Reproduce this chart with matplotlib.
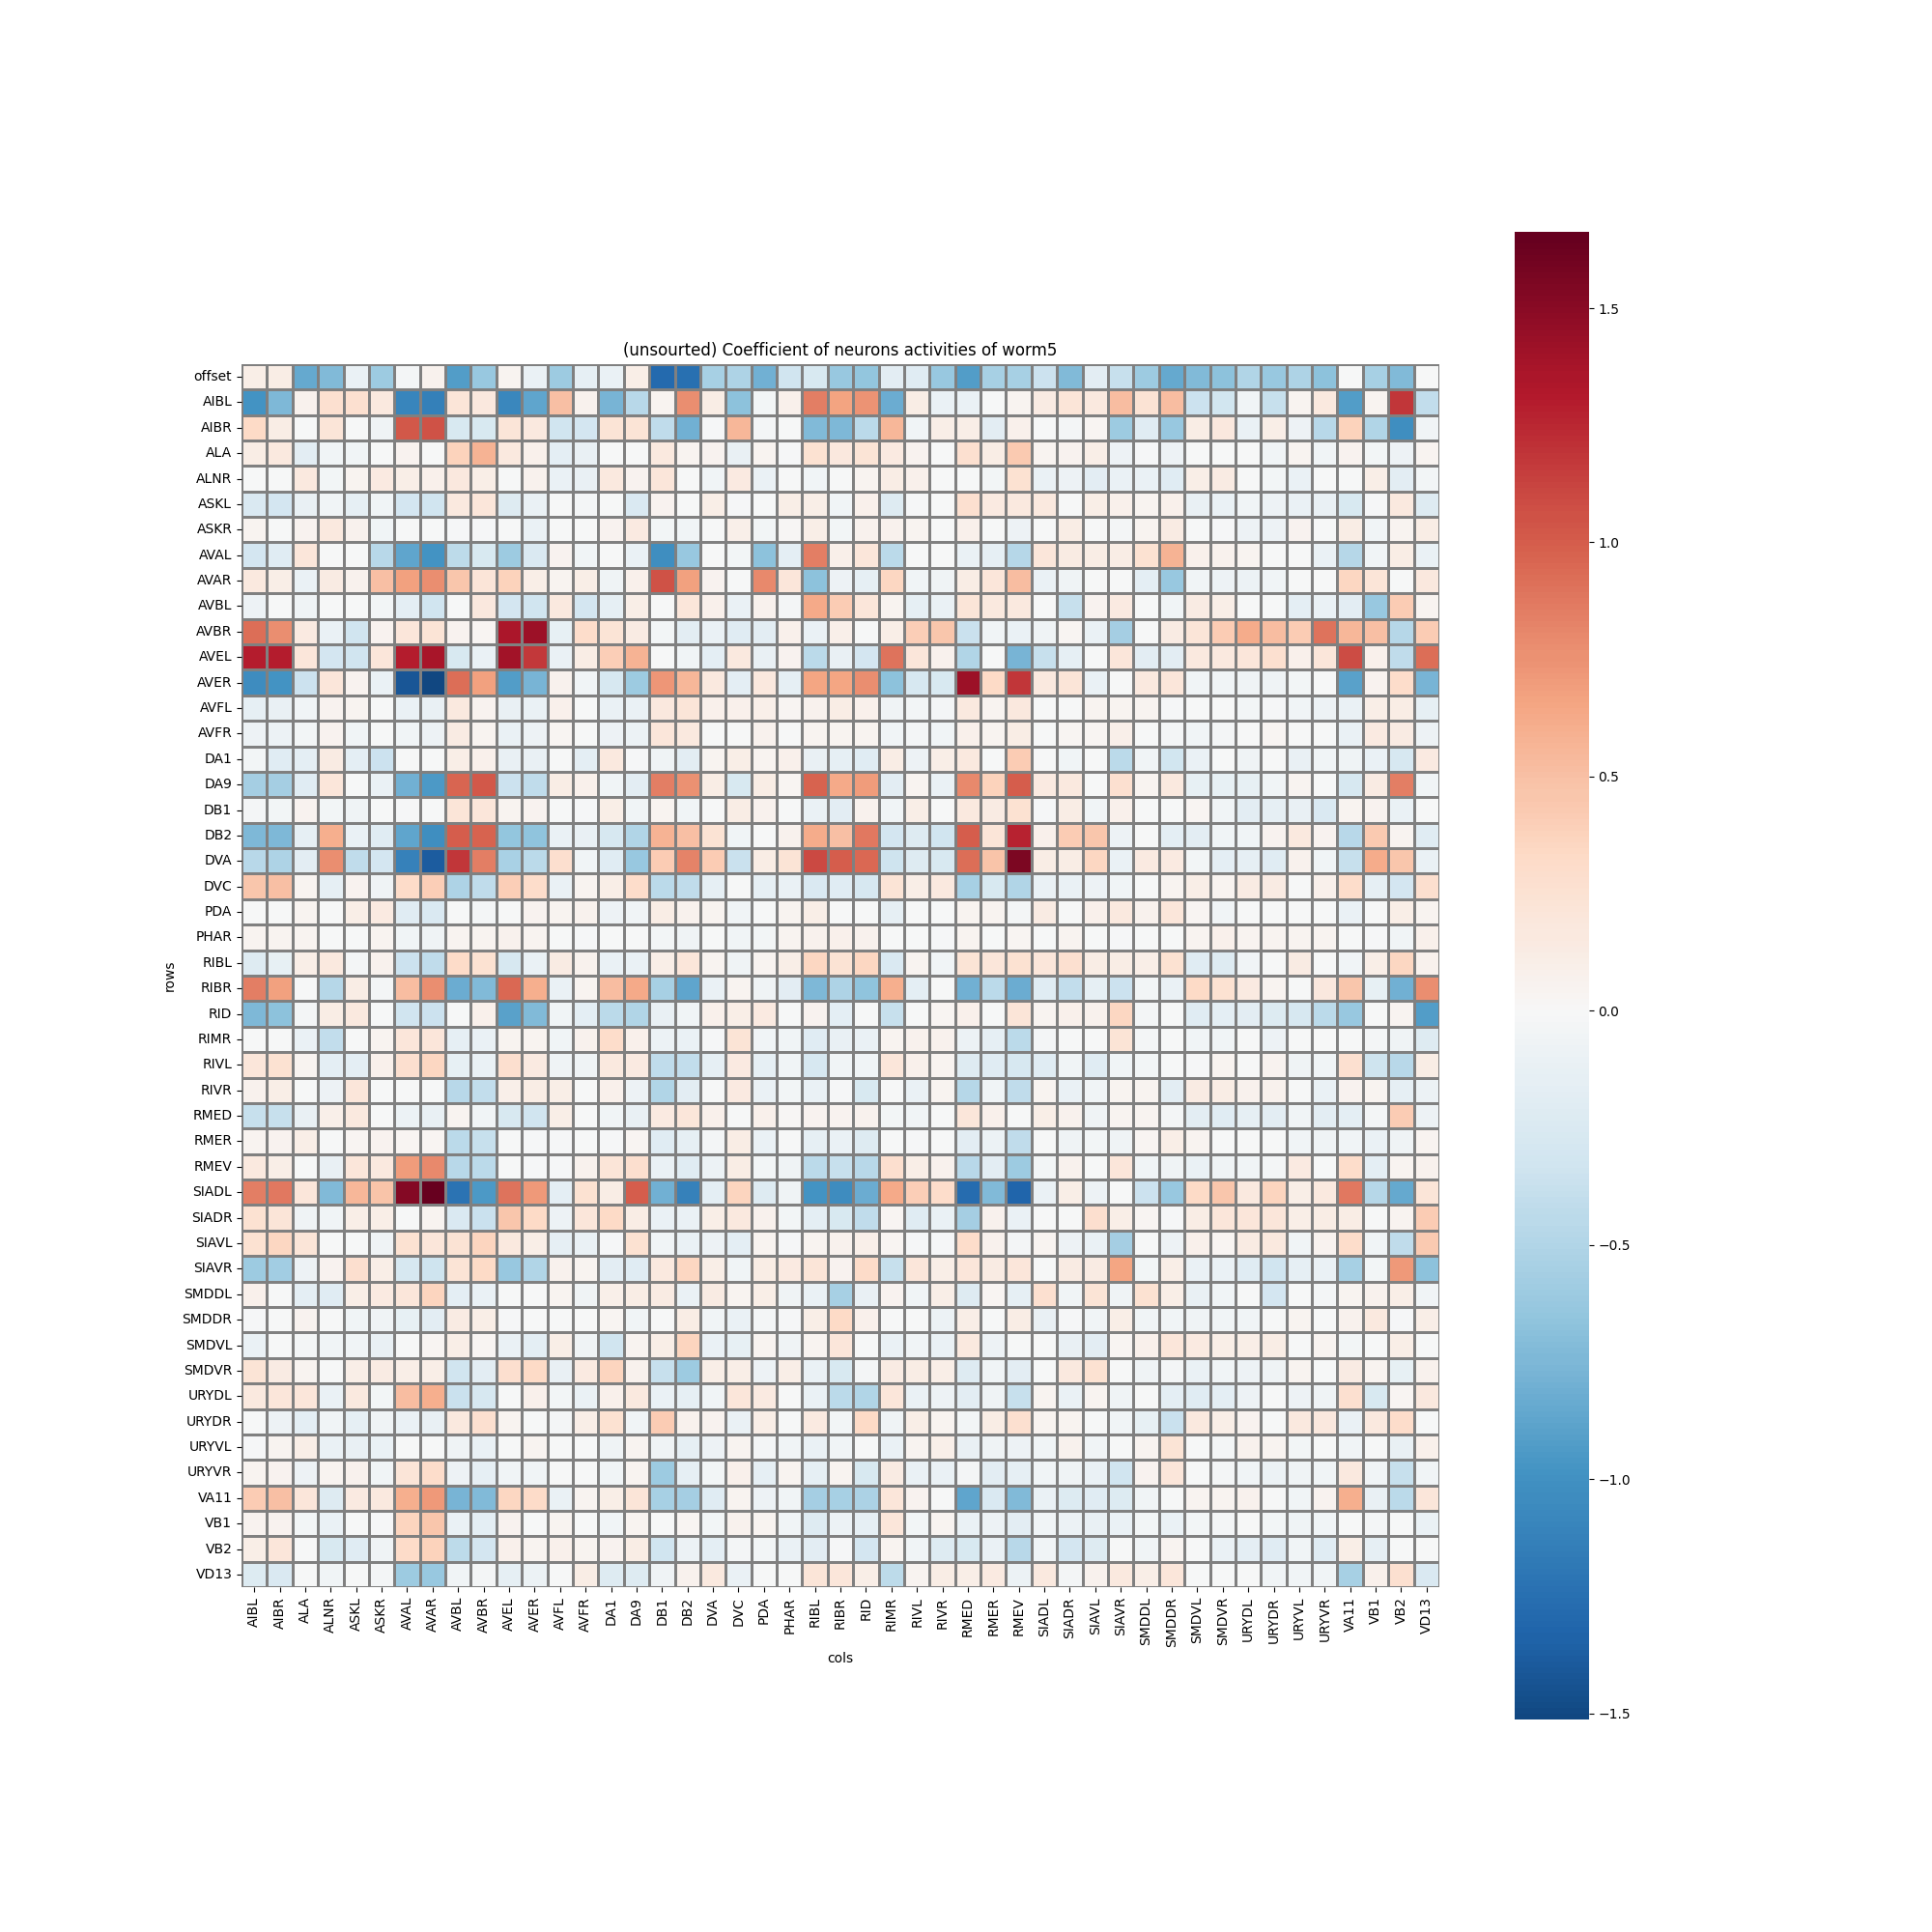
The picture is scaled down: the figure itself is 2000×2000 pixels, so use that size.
import numpy as np
import pandas as pd
import seaborn as sns
import matplotlib
matplotlib.use("Agg")
import matplotlib.pyplot as plt

col_names = ["AIBL", "AIBR", "ALA", "ALNR", "ASKL", "ASKR", "AVAL", "AVAR", "AVBL", "AVBR", "AVEL", "AVER",
             "AVFL", "AVFR", "DA1", "DA9", "DB1", "DB2", "DVA", "DVC", "PDA", "PHAR", "RIBL", "RIBR", "RID",
             "RIMR", "RIVL", "RIVR", "RMED", "RMER", "RMEV", "SIADL", "SIADR", "SIAVL", "SIAVR", "SMDDL",
             "SMDDR", "SMDVL", "SMDVR", "URYDL", "URYDR", "URYVL", "URYVR", "VA11", "VB1", "VB2", "VD13"]
row_names = ["offset"] + col_names

# coefficients, one list per row
offset = [0.1,0.12,-0.85,-0.72,-0.1,-0.6,-0.03,0.07,-0.92,-0.63,0.05,-0.1,-0.6,-0.14,-0.1,0.1,
          -1.28,-1.25,-0.55,-0.52,-0.8,-0.33,-0.27,-0.62,-0.65,-0.18,-0.2,-0.62,-0.92,-0.55,-0.55,-0.35,
          -0.72,-0.18,-0.38,-0.6,-0.85,-0.72,-0.68,-0.5,-0.62,-0.52,-0.68,0,-0.55,-0.72,0]
AIBL = [-0.98,-0.75,0.07,0.27,0.27,0.15,-1.1,-1.13,0.22,0.18,-1.08,-0.88,0.5,0.07,-0.78,-0.47,
        0.05,0.78,0.12,-0.67,-0.04,0.08,0.85,0.67,0.74,-0.82,0.12,-0.1,-0.1,0,0.05,0.13,
        0.22,0.17,0.52,0.24,0.52,-0.35,-0.32,-0.06,-0.38,0.04,0.17,-0.92,0.04,1.18,-0.4]
AIBR = [0.33,0.12,0,0.22,0,-0.07,1.03,1.05,-0.27,-0.27,0.22,0.17,-0.33,-0.3,0.23,0.23,
        -0.42,-0.8,-0.02,0.55,-0.03,0,-0.72,-0.75,-0.45,0.55,-0.06,0.1,0.1,-0.18,0.08,0,
        -0.03,0.03,-0.6,-0.2,-0.62,0.12,0.18,-0.1,0.1,-0.08,-0.47,0.38,-0.5,-1.02,-0.06]
ALA = [0.12,0.17,-0.18,-0.05,-0.05,0,0.06,0,0.38,0.58,0.17,0.08,-0.17,-0.12,0,0,
       0.15,0.05,0.06,-0.12,0.05,-0.02,0.25,0.18,0.23,0.14,0.06,0,0.27,0.12,0.43,0.05,
       0.06,0.1,-0.08,-0.02,-0.08,0,0,0,-0.06,0.04,-0.05,0.06,-0.04,-0.08,0.04]
ALNR = [0,0,0.15,-0.04,0.05,0.14,0.1,0.08,0.18,0.1,0,0.07,-0.1,-0.12,0.17,0.06,
        0.2,0,-0.05,0.14,-0.1,0,-0.06,0,0.05,0.12,0.08,0,0,-0.04,0.25,-0.1,
        -0.08,-0.18,-0.1,-0.1,-0.2,0.1,0.13,0,-0.04,-0.1,0,0,0.1,-0.18,-0.04]
ASKL = [-0.25,-0.3,-0.12,-0.05,-0.14,-0.06,-0.3,-0.33,0.16,0.2,-0.22,-0.1,0,-0.03,0,-0.25,
        0.06,0,0.1,-0.02,0,0.1,0.1,-0.05,0.08,-0.22,-0.02,0,0.27,0.14,0.17,0.15,
        0,0.1,0.08,0.05,0.08,-0.12,-0.1,-0.05,-0.08,-0.1,-0.12,-0.27,-0.02,0.16,-0.22]
ASKR = [0.05,0,0.06,0.17,0.07,-0.06,0,0,-0.02,-0.02,0,-0.1,0,0,0.06,0.14,
        -0.04,-0.05,0,0.09,-0.04,0.02,0.1,-0.04,0.07,0.07,0.05,0,0.08,0,-0.08,0,
        0.12,0,-0.03,0.05,0.13,0,-0.02,-0.08,-0.08,0.06,0,0.12,-0.06,0.05,0.12]
AVAL = [-0.3,-0.2,0.2,0,0,-0.47,-0.88,-0.98,-0.43,-0.27,-0.6,-0.25,0.06,-0.06,0,-0.1,
        -1.02,-0.62,0,-0.04,-0.68,-0.17,0.85,0.09,0.2,-0.45,0,0,-0.1,-0.14,-0.48,0.2,
        0.13,0.12,0.12,0.25,0.58,0.08,0.07,0.05,0,0,-0.1,-0.48,-0.06,0.12,-0.1]
AVAR = [0.16,0.1,-0.1,0.13,0.07,0.5,0.68,0.78,0.47,0.22,0.38,0.1,0.05,0.1,-0.07,0.08,
        1.05,0.68,0.06,0,0.8,0.2,-0.68,-0.08,-0.16,0.36,-0.06,-0.07,0.12,0.2,0.52,-0.1,
        -0.07,0,0,-0.17,-0.62,-0.05,-0.08,-0.09,-0.05,0,0,0.36,0.22,0,0.18]
AVBL = [-0.08,0,-0.07,0,0,-0.04,-0.17,-0.33,0,0.18,-0.3,-0.33,0.16,-0.3,-0.16,0.1,
        0,0.2,0.08,-0.1,0.07,-0.03,0.63,0.42,0.2,0.05,-0.16,-0.1,0.22,0.15,0.17,0,
        -0.38,0.06,0.14,0,-0.06,0.13,0.1,0,0,-0.17,-0.1,-0.18,-0.62,0.42,0.04]
AVBR = [0.92,0.78,0.14,-0.1,-0.33,0.06,0.2,0.23,0.06,0.03,1.36,1.42,-0.13,0.3,0.23,0.13,
        -0.04,-0.18,-0.1,-0.2,-0.18,0.08,-0.1,0.09,0,0.1,0.4,0.46,-0.37,-0.05,-0.1,-0.07,
        0.03,-0.1,-0.56,0,0.13,0.22,0.42,0.62,0.52,0.42,0.9,0.55,0.5,-0.48,0.42]
AVEL = [1.3,1.3,0.2,-0.3,-0.33,0.2,1.3,1.37,-0.27,-0.1,1.4,1.17,-0.1,0.12,0.4,0.58,
        0,-0.05,-0.17,0.16,-0.12,0.06,-0.45,-0.12,-0.3,0.9,0.2,0.07,-0.5,0,-0.78,-0.38,
        -0.15,0,0.2,-0.18,-0.18,0.17,0.16,0.2,0.27,0.08,0.2,1.08,0.08,-0.42,0.93]
AVER = [-1.05,-0.98,-0.35,0.2,0.06,-0.1,-1.42,-1.513,0.92,0.68,-0.92,-0.78,0.07,-0.06,-0.28,-0.6,
        0.73,0.55,0.15,-0.17,0.18,-0.16,0.65,0.65,0.78,-0.68,-0.28,-0.27,1.42,0.33,1.18,0.15,
        0.22,-0.1,0,0.16,0.2,-0.06,-0.06,-0.07,-0.07,-0.04,0,-0.9,0.06,0.3,-0.78]
AVFL = [-0.14,-0.12,-0.06,0.06,0.05,0,-0.11,-0.12,0.16,0.06,-0.12,-0.1,0.08,0,-0.1,-0.11,
        0.18,0.22,0.08,0.08,0.09,0.03,0.07,0.12,0.08,-0.07,-0.04,-0.03,0.16,0.05,0.18,0,
        0,0.05,0.05,0.05,-0.02,0,0,-0.04,-0.02,-0.06,-0.08,-0.11,0.1,0.12,-0.16]
AVFR = [-0.08,-0.09,-0.04,0.06,-0.05,0,-0.06,-0.08,0.13,0.05,-0.1,-0.08,0.03,0,-0.08,-0.09,
        0.2,0.17,0,0,0.07,0,0.05,0.05,0.05,-0.06,-0.03,-0.05,0.08,0.04,0.12,0,
        0.03,0.03,0.09,0,-0.03,-0.05,-0.03,0,0.03,0,0,-0.1,0.14,0.13,-0.08]
DA1 = [-0.04,-0.2,-0.17,0.13,-0.17,-0.35,0,0,0.1,0.08,-0.12,-0.12,0,-0.17,0.17,-0.02,
       -0.07,-0.18,0.05,0.1,0.05,0.08,-0.12,-0.15,-0.2,0.12,-0.08,0.1,0.15,0,0.42,0,
       -0.06,0,-0.44,-0.05,-0.32,-0.1,0,-0.07,0,-0.12,-0.06,-0.07,-0.1,-0.28,0.14]
DA9 = [-0.56,-0.56,-0.2,0.2,0,-0.1,-0.8,-0.95,0.96,1.02,-0.35,-0.42,0.12,0.08,-0.05,-0.18,
       0.85,0.75,0.12,-0.27,0.12,0.03,0.97,0.63,0.7,-0.18,0.05,-0.1,0.8,0.38,1.0,0.14,
       0.16,0,0.27,0.05,0.17,-0.13,-0.13,-0.13,-0.06,0.05,0,-0.28,0.13,0.85,-0.06]
DB1 = [-0.03,-0.04,0.06,-0.04,-0.07,0,-0.02,0,0.22,0.2,0.04,0.06,0,-0.02,0.1,-0.06,
       0.05,-0.05,0,0.12,0.07,0,-0.1,-0.18,0.07,-0.06,0.1,0,0.17,0.13,0.25,-0.02,
       0.12,-0.05,0.08,0,0,0.03,-0.05,-0.18,-0.14,-0.12,-0.25,0.04,0.06,-0.1,0]
DB2 = [-0.74,-0.75,-0.15,0.6,-0.1,-0.2,-0.87,-1.02,1.0,0.97,-0.65,-0.66,-0.1,-0.12,-0.28,-0.5,
       0.58,0.5,0.24,-0.05,0,0.07,0.62,0.5,0.88,-0.3,-0.22,-0.33,1.0,0.22,1.27,0.08,
       0.42,0.45,-0.08,0,-0.17,-0.18,-0.06,-0.05,0.06,0.15,0.06,-0.47,0.43,0.04,-0.2]
DVA = [-0.46,-0.52,-0.18,0.78,-0.42,-0.3,-1.12,-1.38,1.18,0.85,-0.54,-0.45,0.28,-0.05,-0.2,-0.62,
       0.42,0.82,0.42,-0.37,0.12,0.23,1.1,1.0,0.95,-0.34,-0.22,-0.27,0.93,0.48,1.56,0.12,
       0.12,0.35,-0.1,0.14,0.14,-0.04,-0.17,-0.16,-0.2,0.07,-0.05,-0.38,0.62,0.45,-0.1]
DVC = [0.47,0.5,0.05,-0.15,0.06,-0.07,0.32,0.4,-0.52,-0.42,0.4,0.3,-0.1,0.05,0.1,0.3,
       -0.45,-0.42,-0.14,0,-0.14,-0.1,-0.25,-0.2,-0.28,0.23,0.1,0.17,-0.55,-0.27,-0.5,-0.1,
       -0.1,-0.08,-0.06,0,0.04,0.1,0.05,0.13,0.13,0,0.08,0.3,-0.15,-0.3,0.28]
PDA = [0,0,0.05,0,0.1,0.14,-0.2,-0.25,0,-0.03,0,0.06,0.05,0.07,-0.08,-0.06,
       0.12,0.07,0.04,-0.05,0,0.04,0.1,0,0,-0.16,0,0,0.05,0.05,-0.03,0.13,
       0,0.08,0.15,0.07,0.2,0.03,-0.05,0,0,0,0,-0.1,0,0.1,0.04]
PHAR = [0.05,0.04,0.05,0,0,0.05,-0.05,-0.07,0.04,0.05,0.07,0.05,0,-0.02,0,0,
        -0.04,-0.07,0,-0.05,-0.04,0.04,0.07,0.08,0.07,0,0,-0.02,0.05,0,0.03,0,
        0.05,0,-0.02,0,0,0.05,0.08,0.05,0.05,0.05,0.05,0,-0.02,-0.05,0.08]
RIBL = [-0.22,-0.13,0.11,0.15,-0.03,0.07,-0.35,-0.42,0.32,0.25,-0.28,-0.1,0.13,0.07,-0.1,-0.1,
        0.1,0.2,0.05,-0.07,0.05,0.1,0.35,0.24,0.35,-0.25,0.04,-0.06,0.23,0.2,0.25,0.2,
        0.27,0.12,0.12,0.1,0.25,-0.2,-0.22,-0.06,0,0.13,0,-0.05,0.1,0.35,0.07]
RIBR = [0.85,0.68,0,-0.48,0.12,-0.03,0.52,0.78,-0.83,-0.72,0.95,0.6,-0.1,0.05,0.52,0.63,
        -0.55,-0.88,-0.11,0.05,-0.07,-0.18,-0.75,-0.52,-0.66,0.6,-0.17,0,-0.8,-0.45,-0.83,-0.2,
        -0.4,-0.14,-0.35,-0.04,-0.1,0.33,0.25,0.14,0.05,0,0.18,0.47,-0.13,-0.8,0.78]
RID = [-0.75,-0.68,-0.03,0.12,0.15,0,-0.33,-0.35,0,0.08,-0.9,-0.73,-0.05,-0.17,-0.45,-0.5,
       -0.12,-0.05,0.08,0.1,0.14,0,0.06,-0.17,0,-0.38,0,0.03,0.08,0,0.22,0.04,
       0.08,0.07,0.35,-0.03,0,-0.2,-0.17,-0.18,-0.23,-0.28,-0.45,-0.62,0,0.05,-0.92]
RIMR = [0,0,-0.1,-0.4,0,0.05,0.2,0.2,-0.16,-0.1,0.04,0.05,-0.06,0.07,0.3,0.08,
        -0.09,-0.1,-0.02,0.23,-0.06,-0.06,-0.2,-0.12,-0.1,0.04,0.07,0.07,-0.09,-0.15,-0.45,-0.03,
        0,0,0.23,-0.03,0,-0.06,-0.05,0,-0.08,0,0,0,-0.03,-0.07,-0.22]
RIVL = [0.2,0.25,0.04,-0.17,-0.17,0.08,0.28,0.35,-0.13,-0.1,0.28,0.14,-0.07,-0.07,0.15,0.14,
        -0.42,-0.4,-0.16,0.14,-0.16,-0.06,-0.28,-0.05,-0.06,0.2,0.08,0.05,-0.22,-0.2,-0.28,-0.2,
        -0.05,-0.2,-0.05,-0.04,0,-0.02,0.04,0,0.06,-0.07,-0.05,0.27,-0.34,-0.47,0.12]
RIVR = [0.07,0.1,0,-0.08,0.2,0,0,0,-0.47,-0.4,0.09,0.12,0.1,0,0.08,-0.08,
        -0.5,-0.18,0,0.14,-0.1,-0.04,-0.1,-0.02,-0.27,0,-0.1,0.04,-0.48,-0.05,-0.42,0.04,
        -0.1,-0.05,0.05,0.04,-0.18,0.13,0.12,0.07,0.07,0,-0.1,0.06,0.04,-0.15,-0.09]
RMED = [-0.38,-0.38,-0.12,0.09,0.15,0,-0.09,-0.12,0.05,-0.05,-0.27,-0.33,0.1,0,-0.05,-0.12,
        0.14,0.2,0.08,0,0.08,0.02,0.06,0.06,0.07,-0.04,-0.05,0,0.2,0.08,0,0.1,
        0.07,-0.07,0.04,0.05,-0.03,-0.18,-0.2,-0.14,-0.18,-0.05,-0.18,-0.17,-0.03,0.42,-0.08]
RMER = [0.04,0.06,0.1,0,0.03,0.06,0.03,0.03,-0.45,-0.38,0,-0.02,-0.02,0,-0.02,0.03,
        -0.2,-0.14,-0.03,0.12,-0.1,0,-0.15,-0.1,-0.22,0,-0.02,0,-0.18,-0.09,-0.42,0,
        -0.07,-0.04,-0.07,0.03,0.1,0.05,0,0,0,-0.05,-0.07,-0.06,-0.1,-0.07,0.04]
RMEV = [0.15,0.1,0,-0.12,0.2,0.15,0.7,0.8,-0.47,-0.45,0,-0.02,-0.02,0.07,0.22,0.28,
        -0.1,-0.2,-0.09,0.12,-0.04,-0.07,-0.45,-0.38,-0.47,0.28,0.1,0.07,-0.47,-0.18,-0.6,-0.04,
        0.07,0,0.2,-0.05,-0.07,-0.1,-0.07,-0.05,-0.03,0.14,0,0.3,-0.17,0.05,0.07]
SIADL = [0.85,0.88,0.2,-0.72,0.55,0.48,1.52,1.663,-1.22,-0.95,0.9,0.72,-0.17,0.25,0.12,1.0,
         -0.8,-1.12,-0.17,0.37,-0.22,-0.07,-0.98,-1.04,-0.82,0.63,0.4,0.3,-1.27,-0.72,-1.32,-0.1,
         0.1,-0.08,0,-0.35,-0.62,0.33,0.45,0.17,0.37,0.11,0.16,0.88,-0.48,-0.85,0.22]
SIADR = [0.25,0.22,-0.07,-0.06,0.1,0.1,0,0.05,-0.25,-0.36,0.45,0.33,-0.08,0.2,0.33,0.12,
         -0.1,-0.1,0.11,0.16,0.07,-0.04,-0.17,-0.27,-0.42,0.03,-0.2,-0.1,-0.57,0.07,-0.1,0,
         0,0.28,0.1,0.03,-0.02,0.12,0.2,0.2,0.2,0.1,0.12,0.12,0,0.05,0.42]
SIAVL = [0.25,0.35,0.22,0,0,-0.07,0.25,0.2,0.24,0.37,0.15,0.1,-0.15,-0.1,-0.02,0.25,
         -0.05,-0.1,-0.08,-0.17,0.05,-0.02,0.04,0.07,0.09,0.03,-0.02,-0.02,0.3,0.07,-0.03,0.04,
         -0.08,-0.1,-0.56,0,-0.08,0.08,0.03,0.13,0.15,-0.05,0.06,0.3,-0.05,-0.42,0.43]
SIAVR = [-0.6,-0.58,-0.08,0.06,0.28,0.1,-0.28,-0.34,0.23,0.33,-0.62,-0.5,0.07,0.04,-0.18,-0.2,
         0.15,0.35,0.1,-0.05,0.12,0.14,0.22,0.06,0.32,-0.38,0.2,0.1,0.2,0.13,0.2,0,
         0.13,0.13,0.65,-0.04,0.1,-0.1,-0.1,-0.2,-0.33,-0.15,-0.1,-0.55,-0.04,0.72,-0.68]
SMDDL = [0.08,0,-0.17,-0.2,0.11,0.14,0.2,0.37,-0.17,-0.11,0,0,0.05,-0.07,0.09,0.12,
         0.13,-0.1,0.13,0.05,0.1,-0.07,-0.1,-0.55,-0.12,0.06,-0.06,0.1,-0.22,0.03,-0.16,0.27,
         -0.05,0.23,-0.07,0.25,0.11,-0.12,-0.06,0,-0.3,0,-0.03,0.05,0.07,0.1,-0.05]
SMDDR = [-0.02,0,0.06,0,-0.05,-0.07,-0.13,-0.18,0.13,0.1,-0.02,0,0,0,0.03,-0.05,
         0,0.12,-0.06,-0.1,-0.03,-0.02,0.1,0.33,0.08,0,0,-0.09,0.11,0,0.12,-0.12,
         -0.02,-0.05,0.1,-0.06,-0.06,-0.07,-0.05,-0.05,0,0.04,0,0.07,0.17,-0.02,0.1]
SMDVL = [-0.1,0,-0.03,-0.05,-0.06,-0.12,0,0.03,0.11,0.03,-0.11,-0.17,0.1,-0.07,-0.33,0.04,
         0.1,0.37,-0.1,-0.13,0.04,-0.07,0.04,0.2,0,-0.1,-0.06,-0.1,0.15,-0.08,0,0,
         -0.12,-0.18,0.03,0.08,0.2,0.14,0.1,0.11,0.12,0,0.05,-0.04,0,0.1,0]
SMDVR = [0.23,0.13,0.05,0,0.1,0.13,0.1,0.1,-0.33,-0.18,0.28,0.33,-0.12,0.14,0.37,0.07,
         -0.38,-0.6,0.11,0.1,-0.08,0.1,-0.1,-0.27,-0.03,0.13,0.12,0.11,-0.22,-0.06,-0.18,0,
         0.16,0.25,0,-0.07,-0.03,-0.1,-0.06,-0.08,-0.07,0.05,0,0.13,0.05,-0.13,0.07]
URYDL = [0.15,0.2,0.2,-0.1,0.15,-0.04,0.52,0.6,-0.36,-0.28,0,0.08,-0.04,-0.1,0.08,0.17,
         -0.1,-0.16,-0.06,0.2,0.14,0,-0.1,-0.45,-0.5,0.2,-0.1,-0.08,-0.18,-0.07,-0.38,0.04,
         -0.1,0.05,-0.07,0,-0.17,-0.2,-0.17,-0.08,0,-0.08,-0.07,0.27,-0.27,0.03,0.18]
URYDR = [0,-0.08,-0.17,-0.06,-0.16,-0.07,-0.1,-0.12,0.15,0.27,0.05,0,-0.03,0.1,0.25,-0.05,
         0.42,0.07,0.06,-0.1,0.1,0,0.14,-0.04,0.33,-0.07,0.1,0.04,-0.04,0.12,0.27,0.04,
         0.05,0,-0.05,-0.13,-0.37,0.15,0.1,0.06,0,0.17,0.18,-0.1,0.17,0.3,0]
URYVL = [-0.02,0.05,0.1,-0.11,-0.12,-0.1,0,0,-0.07,-0.1,0,0.05,0,0,-0.07,0.04,
         -0.07,-0.16,-0.08,0.04,-0.03,-0.05,-0.11,-0.06,0,-0.1,0.05,0.09,-0.12,-0.07,-0.08,-0.05,
         0.07,-0.05,0,0.05,0.23,0,-0.03,0.07,0.05,-0.04,0,-0.06,0,-0.12,0.08]
URYVR = [0.05,0.06,-0.08,0.05,0.07,-0.05,0.22,0.3,-0.08,-0.15,-0.06,-0.06,0,0,-0.05,0.04,
         -0.6,-0.14,-0.04,0.08,-0.16,0.05,-0.16,0.05,-0.27,0.13,-0.11,-0.1,-0.03,-0.18,-0.14,-0.06,
         -0.07,-0.1,-0.33,0.06,0.2,0,-0.03,-0.06,-0.09,-0.07,-0.06,0.17,-0.06,-0.38,-0.05]
VA11 = [0.42,0.5,0.2,-0.22,0.14,0.17,0.6,0.72,-0.78,-0.72,0.35,0.32,-0.1,0.05,0.1,0.22,
        -0.55,-0.56,-0.2,0.05,-0.08,-0.05,-0.57,-0.55,-0.53,0.2,0.06,0,-0.88,-0.25,-0.72,-0.11,
        -0.23,-0.2,-0.23,-0.05,0,0.04,0.05,0.07,0,-0.05,0.06,0.6,-0.12,-0.45,0.2]
VB1 = [0.06,0.06,-0.04,-0.1,0,-0.02,0.37,0.45,-0.11,-0.17,0.06,0,0.04,0,-0.05,0.05,
       0,0.03,-0.04,0.07,0.05,-0.06,-0.22,-0.09,-0.16,0.2,-0.04,0.04,-0.11,-0.08,-0.18,-0.05,
       -0.09,-0.12,-0.11,-0.04,-0.11,-0.04,-0.03,0,-0.04,-0.07,-0.05,0,-0.03,0,-0.11]
VB2 = [0.1,0.2,0,-0.27,-0.2,-0.07,0.32,0.38,-0.43,-0.3,0.08,0.04,0.08,0.04,0.06,0.12,
       -0.33,-0.09,-0.17,-0.03,-0.04,-0.1,-0.18,-0.02,-0.3,0.05,-0.06,-0.22,-0.27,-0.1,-0.47,-0.06,
       -0.3,-0.22,0,-0.06,0.04,0,-0.1,-0.17,-0.2,-0.06,-0.2,0.1,-0.15,0,0]
VD13 = [-0.23,-0.25,0,-0.05,0,-0.03,-0.6,-0.63,-0.05,-0.03,-0.15,-0.09,0,0.12,-0.22,-0.22,
        -0.07,0.07,0.15,-0.1,0,0,0.22,0.2,0.1,-0.43,0.04,0.12,0.1,0.14,-0.09,0.15,
        -0.03,0.07,0.15,0.1,0.2,0,0,0,-0.06,-0.06,-0.05,-0.55,0.08,0.27,-0.25]

rows = [offset, AIBL, AIBR, ALA, ALNR, ASKL, ASKR, AVAL, AVAR, AVBL, AVBR, AVEL, AVER, AVFL, AVFR, DA1, DA9,
        DB1, DB2, DVA, DVC, PDA, PHAR, RIBL, RIBR, RID, RIMR, RIVL, RIVR, RMED, RMER, RMEV, SIADL, SIADR,
        SIAVL, SIAVR, SMDDL, SMDDR, SMDVL, SMDVR, URYDL, URYDR, URYVL, URYVR, VA11, VB1, VB2, VD13]

df = pd.DataFrame(rows, index=pd.Index(row_names, name="rows"), columns=pd.Index(col_names, name="cols"))

plt.figure(figsize=(20, 20), dpi=100)
ax = sns.heatmap(df, cmap="RdBu_r", center=0, square=True, linewidths=0.75, linecolor="gray")
ax.set_title("(unsourted) Coefficient of neurons activities of worm5")
plt.setp(ax.get_xticklabels(), rotation=90)
plt.setp(ax.get_yticklabels(), rotation=0)
plt.savefig("out.png", dpi=100)
